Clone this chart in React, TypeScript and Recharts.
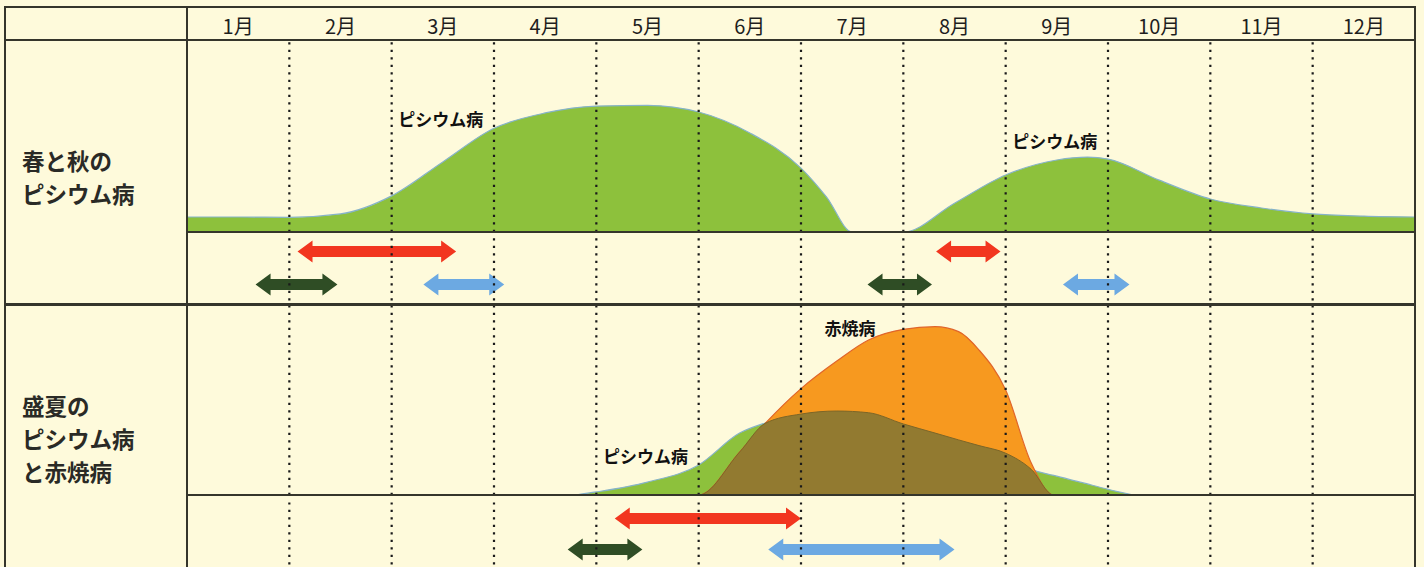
import React from 'react';
import {ComposedChart, BarChart, Area, Bar, XAxis, YAxis, ReferenceLine, ReferenceDot} from 'recharts';

// 月ラベル
const MONTHS = ['1月', '2月', '3月', '4月', '5月', '6月', '7月', '8月', '9月', '10月', '11月', '12月'];
const MONTH_EDGES = [1, 2, 3, 4, 5, 6, 7, 8, 9, 10, 11];
const MONTH_CENTERS = [0.5, 1.5, 2.5, 3.5, 4.5, 5.5, 6.5, 7.5, 8.5, 9.5, 10.5, 11.5];

// 春と秋のピシウム病 (発生の程度, 0-100)
const P1_MONTH = [0, 0.5, 1, 1.5, 2, 2.5, 3, 3.5, 4, 4.5, 5, 5.5, 6, 6.25, 6.5, 7, 7.5, 8, 8.5, 8.8, 9, 9.5, 10, 10.5, 11, 11.5, 12];
const P1_PYTHIUM = [7.8, 7.8, 7.6, 9.4, 18.8, 36.5, 54, 62, 65.6, 66, 62.5, 51.6, 33.3, 18.2, 0, 0, 15, 29.7, 37.5, 39, 38, 27, 17.2, 12.5, 9.4, 8.3, 7.8];

// 盛夏のピシウム病と赤焼病
const P2_MONTH = [3.8, 4, 4.5, 5, 5.4, 5.65, 6, 6.35, 6.66, 7, 7.31, 7.54, 7.74, 8, 8.25, 8.47, 8.75, 9, 9.25];
const P2_PYTHIUM = [0, 1.6, 6.8, 15.8, 32.6, 37.9, 42.6, 44.2, 43.3, 37.4, 32.6, 29, 26, 22, 13.5, 10.3, 6.5, 3, 0];
const P2_AKAYAKE = [0, 0, 0, 0, 22.6, 37.7, 56, 70.5, 81.6, 87.2, 88.6, 86, 76.3, 55.3, 16.8, 0, 0, 0, 0];

// 矢印 [開始月, 終了月]
const P1_RED = [[1.08, 2.63], [7.32, 7.95]];
const P1_GREEN = [[0.67, 1.47], [6.65, 7.28]];
const P1_BLUE = [[2.31, 3.1], [8.56, 9.21]];
const P2_RED = [[4.18, 6.0]];
const P2_GREEN = [[3.72, 4.45]];
const P2_BLUE = [[5.68, 7.5]];

const BG = '#FEFADB';
const LINE = '#35352b';
const FONT = '"Noto Sans CJK JP", "Noto Sans", sans-serif';
const COLORS = {red: '#F2361F', green: '#2F4D25', blue: '#6CA9E2'};

const p1Data = P1_MONTH.map((m, i) => ({m, pythium: P1_PYTHIUM[i]}));
const p2Data = P2_MONTH.map((m, i) => ({
  m,
  pythium: P2_PYTHIUM[i],
  akayake: P2_AKAYAKE[i],
  both: Math.min(P2_PYTHIUM[i], P2_AKAYAKE[i]),
}));
const headerData = MONTHS.map((label, i) => ({pos: MONTH_CENTERS[i], label}));

const arrowRows = (red: number[][], green: number[][], blue: number[][]) => {
  const upper: any = {row: 'upper'};
  const lower: any = {row: 'lower'};
  red.forEach((r, i) => (upper[`red${i}`] = r));
  green.forEach((r, i) => (lower[`green${i}`] = r));
  blue.forEach((r, i) => (lower[`blue${i}`] = r));
  return [upper, lower];
};

const ARROW_KEYS = ['red0', 'red1', 'green0', 'green1', 'blue0', 'blue1'];

const Arrow = (props: any) => {
  const {x, y, width, height, fill} = props;
  if (!width || width <= 0) return null;
  const cy = y + height / 2;
  const head = Math.min(15, width / 3);
  const hh = 11;
  const sh = 5.5;
  const pts = [
    [x, cy],
    [x + head, cy - hh],
    [x + head, cy - sh],
    [x + width - head, cy - sh],
    [x + width - head, cy - hh],
    [x + width, cy],
    [x + width - head, cy + hh],
    [x + width - head, cy + sh],
    [x + head, cy + sh],
    [x + head, cy + hh],
  ];
  return <polygon points={pts.map((p) => p.join(',')).join(' ')} fill={fill} />;
};

const edgeLines = () =>
  MONTH_EDGES.map((m) => (
    <ReferenceLine key={m} x={m} stroke='#1a1a1a' strokeWidth={2.2} strokeDasharray='2.2 5.3' />
  ));

const MonthTick = ({x, payload}: any) => (
  <text x={x} y={18} textAnchor='middle' dominantBaseline='central' fontSize={20} fill='#1e1e1e' fontFamily={FONT}>
    {MONTHS[Math.floor(payload.value)]}
  </text>
);

const curveLabel = (value: string) => ({
  value,
  position: 'center' as const,
  fill: '#111',
  fontSize: 17,
  fontWeight: 700,
  fontFamily: FONT,
});

const ArrowChart = ({rows, height, top, bottom}: any) => (
  <BarChart
    width={1228}
    height={height}
    data={rows}
    layout='vertical'
    barGap={-22}
    barSize={22}
    margin={{top, right: 0, bottom, left: 0}}
  >
    <XAxis type='number' domain={[0, 12]} hide />
    <YAxis type='category' dataKey='row' hide />
    {ARROW_KEYS.map((k) => (
      <Bar
        key={k}
        dataKey={k}
        fill={COLORS[k.replace(/\d/, '') as keyof typeof COLORS]}
        shape={<Arrow />}
        isAnimationActive={false}
      />
    ))}
    {edgeLines()}
  </BarChart>
);

const frame = (left: number, top: number, width: number, height: number) => (
  <div style={{position: 'absolute', left, top, width, height, background: LINE}} />
);

const sideLabel: React.CSSProperties = {
  position: 'absolute',
  left: 22,
  fontFamily: FONT,
  fontWeight: 700,
  fontSize: 22.5,
  lineHeight: '33px',
  color: '#2a2a26',
  whiteSpace: 'nowrap',
};

export default function App() {
  return (
    <div style={{position: 'fixed', left: 0, top: 0, width: 1424, height: 567, background: BG, overflow: 'hidden'}}>
      {/* 月の見出し */}
      <div style={{position: 'absolute', left: 187, top: 7}}>
        <ComposedChart width={1228} height={33} data={headerData} margin={{top: 0, right: 0, bottom: 0, left: 0}}>
          <XAxis xAxisId={0} type='number' domain={[0, 12]} hide />
          <XAxis
            xAxisId='labels'
            type='number'
            dataKey='pos'
            domain={[0, 12]}
            ticks={MONTH_CENTERS}
            orientation='top'
            height={1}
            axisLine={false}
            tickLine={false}
            tick={<MonthTick />}
          />
          <YAxis hide domain={[0, 1]} />
          {edgeLines()}
        </ComposedChart>
      </div>

      {/* 春と秋のピシウム病 */}
      <div style={{position: 'absolute', left: 187, top: 40}}>
        <ComposedChart width={1228} height={192} data={p1Data} margin={{top: 0, right: 0, bottom: 0, left: 0}}>
          <XAxis type='number' dataKey='m' domain={[0, 12]} hide />
          <YAxis hide domain={[0, 100]} />
          <Area
            type='monotone'
            dataKey='pythium'
            fill='#8DC13C'
            fillOpacity={1}
            stroke='#86b3c9'
            strokeWidth={1.2}
            dot={false}
            activeDot={false}
            isAnimationActive={false}
          />
          {edgeLines()}
          <ReferenceDot x={2.48} y={58.3} r={0} fill='none' stroke='none' label={curveLabel('ピシウム病')} />
          <ReferenceDot x={8.48} y={46.9} r={0} fill='none' stroke='none' label={curveLabel('ピシウム病')} />
        </ComposedChart>
      </div>
      <div style={{position: 'absolute', left: 187, top: 232}}>
        <ArrowChart rows={arrowRows(P1_RED, P1_GREEN, P1_BLUE)} height={73} top={2.5} bottom={4.5} />
      </div>

      {/* 盛夏のピシウム病と赤焼病 */}
      <div style={{position: 'absolute', left: 187, top: 305}}>
        <ComposedChart width={1228} height={190} data={p2Data} margin={{top: 0, right: 0, bottom: 0, left: 0}}>
          <XAxis type='number' dataKey='m' domain={[0, 12]} hide />
          <YAxis hide domain={[0, 100]} />
          <Area
            type='monotone'
            dataKey='pythium'
            fill='#8DC13C'
            fillOpacity={1}
            stroke='#86b3c9'
            strokeWidth={1.2}
            dot={false}
            activeDot={false}
            isAnimationActive={false}
          />
          <Area
            type='monotone'
            dataKey='akayake'
            fill='#F7991F'
            fillOpacity={1}
            stroke='#E0652B'
            strokeWidth={1.2}
            dot={false}
            activeDot={false}
            isAnimationActive={false}
          />
          <Area
            type='monotone'
            dataKey='both'
            fill='#927A30'
            fillOpacity={1}
            stroke='#7d6627'
            strokeWidth={1}
            dot={false}
            activeDot={false}
            isAnimationActive={false}
          />
          {edgeLines()}
          <ReferenceDot x={6.48} y={87.4} r={0} fill='none' stroke='none' label={curveLabel('赤焼病')} />
          <ReferenceDot x={4.48} y={20} r={0} fill='none' stroke='none' label={curveLabel('ピシウム病')} />
        </ComposedChart>
      </div>
      <div style={{position: 'absolute', left: 187, top: 495}}>
        <ArrowChart rows={arrowRows(P2_RED, P2_GREEN, P2_BLUE)} height={72} top={7.5} bottom={2.5} />
      </div>

      {/* 表の罫線 */}
      {frame(4, 6, 1412, 2)}
      {frame(4, 6, 2, 561)}
      {frame(1414, 6, 2, 561)}
      {frame(4, 39, 1412, 2)}
      {frame(186, 6, 2, 561)}
      {frame(187, 231, 1228, 2)}
      {frame(4, 303, 1412, 3)}
      {frame(187, 494, 1228, 2)}

      {/* 左側の見出し */}
      <div style={{...sideLabel, top: 144}}>
        春と秋の
        <br />
        ピシウム病
      </div>
      <div style={{...sideLabel, top: 389}}>
        盛夏の
        <br />
        ピシウム病
        <br />
        と赤焼病
      </div>
    </div>
  );
}
